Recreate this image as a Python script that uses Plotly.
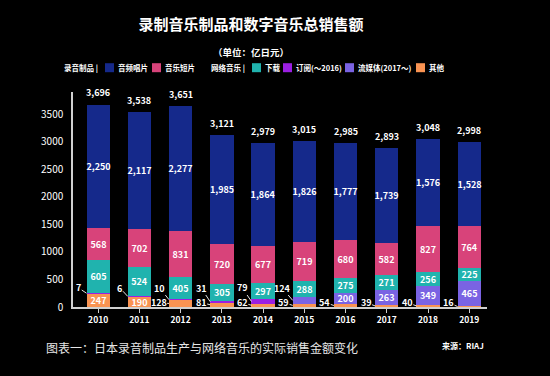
import plotly.graph_objects as go

years = [2010, 2011, 2012, 2013, 2014, 2015, 2016, 2017, 2018, 2019]
audio = [2250, 2117, 2277, 1985, 1864, 1826, 1777, 1739, 1576, 1528]
video = [568, 702, 831, 720, 677, 719, 680, 582, 827, 764]
download = [605, 524, 405, 305, 297, 288, 275, 271, 256, 225]
subscription = [7, 6, 10, 31, 79, 0, 0, 0, 0, 0]
streaming = [0, 0, 0, 0, 0, 124, 200, 263, 349, 465]
other = [247, 190, 128, 81, 62, 59, 54, 39, 40, 16]
totals = [3696, 3538, 3651, 3121, 2979, 3015, 2985, 2893, 3048, 2998]
y_ticks = [0, 500, 1000, 1500, 2000, 2500, 3000, 3500]

C_AUDIO = "#15298b"
C_VIDEO = "#d8437a"
C_DL = "#20b3ae"
C_SUB = "#9b1fe2"
C_STREAM = "#7a63e3"
C_OTHER = "#f99352"

FONT = "Noto Sans CJK SC, sans-serif"
W, H = 550, 376
X0, X1, Y0, Y1 = 73, 487, 92, 307
YMAX = 3906
BARW = 0.565
SCALE = (Y1 - Y0) / YMAX

def px(x):
    return (x - X0) / (X1 - X0)

def py(y):
    return (Y1 - y) / (Y1 - Y0)

# series stacked bottom -> top
series = [
    ("其他", other, C_OTHER),
    ("订阅", subscription, C_SUB),
    ("流媒体", streaming, C_STREAM),
    ("下载", download, C_DL),
    ("音乐短片", video, C_VIDEO),
    ("音频唱片", audio, C_AUDIO),
]

fig = go.Figure()
annotations = []
base = [0] * len(years)
for name, vals, col in series:
    texts, pos = [], []
    for i, v in enumerate(vals):
        inside = v >= 150
        texts.append(f"{v:,}" if inside else "")
        pos.append("inside" if inside else "none")
        if 0 < v < 150:
            upper = name in ("订阅", "流媒体")
            mid = base[i] + v / 2
            lab = f"{v:,}"
            off_x = -(len(lab) * 1.3 + 6.5)
            off_y = -(19 - mid * SCALE) if upper else -(4.5 - mid * SCALE)
            annotations.append(dict(
                x=years[i] - BARW / 2, y=mid, xref="x", yref="y",
                text=lab, showarrow=True, arrowhead=0, arrowwidth=0.9,
                arrowcolor="#ffffff", ax=off_x, ay=off_y, borderpad=0,
                standoff=0, font=dict(family=FONT, size=9, color="#ffffff", weight="bold")))
    fig.add_trace(go.Bar(
        x=years, y=vals, name=name, marker=dict(color=col, line=dict(width=0)),
        width=BARW, text=texts, textposition=pos, textangle=0,
        insidetextanchor="middle", constraintext="none",
        textfont=dict(family=FONT, size=9, color="#ffffff", weight="bold"),
        showlegend=False, hoverinfo="skip"))
    base = [b + v for b, v in zip(base, vals)]

for i, t in enumerate(totals):
    annotations.append(dict(x=years[i], y=t, xref="x", yref="y", text=f"{t:,}",
                            showarrow=False, yanchor="bottom", yshift=3,
                            font=dict(family=FONT, size=9, color="#ffffff", weight="bold")))

# subtitle
annotations.append(dict(x=px(251), y=py(43), xref="paper", yref="paper",
                        text="<b>（单位：亿日元）</b>", showarrow=False,
                        font=dict(family=FONT, size=9.5, color="#ffffff")))

# custom legend
shapes = []
LY = 67.7
leg_font = dict(family=FONT, size=7.5, color="#ffffff")
for txt, x in [("录音制品 |", 62), ("网络音乐 |", 209)]:
    annotations.append(dict(x=px(x), y=py(LY), xref="paper", yref="paper", text=f"<b>{txt}</b>",
                            showarrow=False, xanchor="left", yanchor="middle", font=leg_font))
legend_items = [
    ("音频唱片", C_AUDIO, 105),
    ("音乐短片", C_VIDEO, 152),
    ("下载", C_DL, 252),
    ("订阅(～2016)", C_SUB, 283),
    ("流媒体(2017～)", C_STREAM, 345),
    ("其他", C_OTHER, 416),
]
for txt, col, x in legend_items:
    shapes.append(dict(type="rect", xref="paper", yref="paper",
                       x0=px(x), x1=px(x + 9), y0=py(LY + 4.5), y1=py(LY - 4.5),
                       fillcolor=col, line=dict(width=0)))
    annotations.append(dict(x=px(x + 10.5), y=py(LY), xref="paper", yref="paper", text=f"<b>{txt}</b>",
                            showarrow=False, xanchor="left", yanchor="middle", font=leg_font))

# caption and source
annotations.append(dict(x=px(44), y=py(347), xref="paper", yref="paper",
                        text="图表一：日本录音制品生产与网络音乐的实际销售金额变化",
                        showarrow=False, xanchor="left", yanchor="middle",
                        font=dict(family=FONT, size=12, color="#e6e6e6")))
annotations.append(dict(x=px(486), y=py(345), xref="paper", yref="paper",
                        text="<b>来源：RIAJ</b>", showarrow=False, xanchor="right", yanchor="middle",
                        font=dict(family=FONT, size=8, color="#ffffff")))

fig.update_layout(
    width=W, height=H,
    paper_bgcolor="#000000", plot_bgcolor="#000000",
    margin=dict(l=X0, r=W - X1, t=Y0, b=H - Y1, pad=0),
    barmode="stack", bargap=0,
    title=dict(text="<b>录制音乐制品和数字音乐总销售额</b>", x=251 / W, xanchor="center",
               xref="container", y=1 - 25 / H, yref="container", yanchor="middle",
               font=dict(family=FONT, size=15, color="#ffffff")),
    annotations=annotations, shapes=shapes,
    xaxis=dict(range=[2009.39, 2019.43], tickvals=years, ticktext=[str(y) for y in years],
               showgrid=False, zeroline=False, showline=True, linecolor="#d0d0d0", linewidth=1.5,
               ticks="outside", ticklen=4, tickcolor="#d0d0d0", tickwidth=1,
               tickfont=dict(family=FONT, size=8.5, color="#ffffff", weight="bold")),
    yaxis=dict(range=[0, YMAX], tickvals=y_ticks, ticktext=[str(v) for v in y_ticks],
               showgrid=False, zeroline=False, showline=True, linecolor="#d0d0d0", linewidth=1.5,
               ticks="", ticklabelstandoff=6,
               tickfont=dict(family=FONT, size=10, color="#ffffff")),
    font=dict(family=FONT, color="#ffffff"),
)

fig.write_html("out.html", config={"displayModeBar": False},
               post_script="document.body.style.margin='0';document.body.style.background='#000';")
